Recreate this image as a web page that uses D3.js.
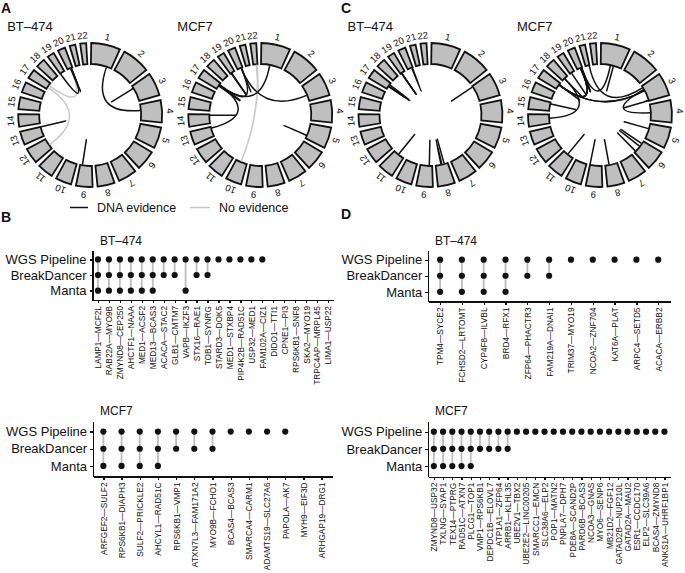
<!DOCTYPE html>
<html>
<head>
<meta charset="utf-8">
<title>Fusion detection in BT-474 and MCF7</title>
<script src="https://d3js.org/d3.v7.min.js"></script>
<style>
  body { margin: 0; background: #fff; }
  text { font-family: "Liberation Sans", Arial, Helvetica, sans-serif; fill: #111; }
  .axis path, .axis line { stroke: #111; stroke-width: 1.3px; shape-rendering: crispEdges; }
</style>
</head>
<body>
<script>
// chromosome sizes (Mb)
var chromNames = ["1","2","3","4","5","6","7","8","9","10","11","12","13","14","15","16","17","18","19","20","21","22"];
var chromLengths = [249, 243, 198, 191, 181, 171, 159, 146, 141, 136, 135, 134, 115, 107, 103, 90, 81, 78, 59, 63, 48, 51];

// circos links: [chrA, posA(Mb), chrB, posB(Mb), DNA evidence]
var linksA_BT474 = [
  [12, 50.6, 17, 20.9, 0],
  [17, 48, 20, 34, 0],
  [1, 190, 4, 72, 1],
  [3, 32.4, 3, 33.0, 1],
  [13, 113.7, 13, 113.9, 1],
  [9, 113, 9, 114, 1],
  [19, 2, 20, 47, 1],
  [20, 40, 20, 46, 1],
  [20, 44, 20, 48, 1]
];
var linksA_MCF7 = [
  [10, 74, 22, 48, 0],
  [22, 36.7, 22, 36.9, 0],
  [1, 105, 17, 56.8, 1],
  [3, 125, 20, 46.3, 1],
  [13, 100, 17, 58, 1],
  [14, 96, 14, 97, 1],
  [5, 145, 5, 147, 1],
  [17, 57.8, 17, 58.0, 1],
  [17, 42.2, 17, 42.4, 1],
  [19, 17.2, 19, 17.9, 1],
  [19, 11.0, 19, 11.1, 1],
  [20, 47.5, 20, 46.3, 1],
  [20, 49.4, 17, 58.8, 1]
];
var linksC_BT474 = [
  [19, 16.2, 19, 13.0, 1],
  [11, 72.5, 11, 71.8, 1],
  [19, 15.7, 19, 15.2, 1],
  [19, 15.4, 19, 14.1, 1],
  [20, 50.7, 20, 58.2, 1],
  [9, 34.4, 9, 34.5, 1],
  [17, 57.1, 17, 34.9, 1],
  [8, 71.0, 8, 81.6, 1],
  [8, 41.8, 8, 42.0, 1],
  [3, 9.8, 3, 9.5, 1],
  [17, 35.5, 17, 37.8, 1]
];
var linksC_MCF7 = [
  [20, 45.9, 17, 58.3, 1],
  [17, 56.6, 3, 61.5, 1],
  [17, 56.8, 3, 63.9, 1],
  [20, 39.8, 20, 39.7, 1],
  [17, 57.8, 17, 58.0, 1],
  [5, 59.9, 5, 60.0, 1],
  [1, 116.9, 20, 50.7, 1],
  [11, 75.0, 11, 75.1, 1],
  [20, 48.7, 17, 59.5, 1],
  [3, 23.2, 21, 45.3, 1],
  [3, 47.6, 4, 101.3, 1],
  [14, 61.4, 18, 33.7, 1],
  [8, 99.1, 8, 98.9, 1],
  [9, 140.4, 9, 140.5, 1],
  [15, 85.5, 15, 85.2, 1],
  [20, 49.4, 17, 58.8, 1],
  [20, 46.1, 20, 57.4, 1],
  [6, 76.5, 6, 76.3, 1],
  [3, 192.6, 3, 192.3, 1],
  [1, 153.8, 1, 154.1, 1],
  [19, 19.5, 19, 19.4, 1],
  [6, 152.0, 6, 151.9, 1],
  [18, 33.6, 18, 33.8, 1],
  [20, 49.4, 20, 45.9, 1],
  [6, 34.9, 6, 34.8, 1]
];

// detection panels
var methods = ["WGS Pipeline", "BreakDancer", "Manta"];

var fusionsB_BT474 = ["LAMP1—MCF2L","RAB22A—MYO9B","ZMYND8—CEP250","AHCTF1—NAAA","MED1—ACSF2","MED13—BCAS3","ACACA—STAC2","GLB1—CMTM7","VAPB—IKZF3","STX16—RAE1","TOB1—SYNRG","STARD3—DOK5","MED1—STXBP4","PIP4K2B—RAD51C","USP32—MED1","FAM102A—CIZ1","DIDO1—TTI1","CPNE1—PI3","RPS6KB1—SNF8","SKA2—MYO19","TRPC4AP—MRPL45","LIMA1—USP22"];
var wgsB_BT474    = [1,1,1,1,1,1,1,1,1,1,1,1,1,1,1,1,0,0,0,0,0,0];
var bdB_BT474     = [1,1,1,1,1,1,1,1,0,1,1,0,0,0,0,0,0,0,0,0,0,0];
var mantaB_BT474  = [1,1,1,1,1,1,0,0,1,0,0,0,0,0,0,0,0,0,0,0,0,0];

var fusionsB_MCF7 = ["ARFGEF2—SULF2","RPS6KB1—DIAPH3","SULF2—PRICKLE2","AHCYL1—RAD51C","RPS6KB1—VMP1","ATXN7L3—FAM171A2","MYO9B—FCHO1","BCAS4—BCAS3","SMARCA4—CARM1","ADAMTS19—SLC27A6","PAPOLA—AK7","MYH9—EIF3D","ARHGAP19—DRG1"];
var wgsB_MCF7     = [1,1,1,1,1,1,1,1,1,1,1,0,0];
var bdB_MCF7      = [1,1,1,1,1,1,1,0,0,0,0,0,0];
var mantaB_MCF7   = [1,1,1,1,0,0,0,0,0,0,0,0,0];

var fusionsD_BT474 = ["TPM4—SYCE2","FCHSD2—LRTOMT","CYP4F8—ILVBL","BRD4—RFX1","ZFP64—PHACTR3","FAM219A—DNAI1","TRIM37—MYO19","NCOA2—ZNF704","KAT6A—PLAT","ARPC4—SETD5","ACACA—ERBB2"];
var wgsD_BT474    = [1,1,1,1,1,1,1,1,1,1,1];
var bdD_BT474     = [1,1,1,1,1,1,0,0,0,0,0];
var mantaD_BT474  = [1,1,1,1,0,0,0,0,0,0,0];

var fusionsD_MCF7 = ["ZMYND8—USP32","TXLNG—SYAP1","TEX14—PTPRG","RAD51C—ATXN7","PLCG1—TOP1","VMP1—RPS6KB1","DEPDC1B—ELOVL7","ATP1A1—ZFP64","ARRB1—KLHL35","UBE2V1—TBX2","UBE2E2—LINC00205","SMARCC1—EMCN","SLC38A6—ELP2","POP1—MATN2","PNPLA7—DPH7","PDE8A—SCAND2P","PARD6B—BCAS3","NCOA3—GNAS","MYO6—SENP6","MB21D2—FGF12","GATAD2B—NUP210L","GATAD2A—MAU2","ESR1—CCDC170","ELP2—SLC39A6","BCAS4—ZMYND8","ANKS1A—UHRF1BP1"];
var wgsD_MCF7     = [1,1,1,1,1,1,1,1,1,1,1,1,1,1,1,1,1,1,1,1,1,1,1,1,1,1];
var bdD_MCF7      = [1,1,1,1,1,1,1,1,1,0,0,0,0,0,0,0,0,0,0,0,0,0,0,0,0,0];
var mantaD_MCF7   = [1,1,1,1,1,0,0,0,0,0,0,0,0,0,0,0,0,0,0,0,0,0,0,0,0,0];

var width = 685, height = 573;
var svg = d3.select("body").append("svg").attr("width", width).attr("height", height);

// ---------- circos layout ----------
var gapDeg = 4, startDeg = 0.8;
var degPerMb = (360 - gapDeg * chromLengths.length) / d3.sum(chromLengths);
var rad = Math.PI / 180;
var chromScales = [];
var acc = startDeg;
chromLengths.forEach(function (len) {
    chromScales.push(d3.scaleLinear().domain([0, len]).range([acc * rad, (acc + len * degPerMb) * rad]));
    acc += len * degPerMb + gapDeg;
});
var rIn = 51, rOut = 72, rLabel = 76.5, rLink = 50.3;

function drawCircos(cx, cy, title, links) {
    var g = svg.append("g").attr("transform", "translate(" + cx + "," + cy + ")");
    var arc = d3.arc().innerRadius(rIn).outerRadius(rOut);

    g.selectAll("path.chrom").data(chromNames).enter().append("path")
        .attr("class", "chrom")
        .attr("d", function (d, i) {
            var s = chromScales[i];
            return arc({ startAngle: s(0), endAngle: s(chromLengths[i]) });
        })
        .attr("fill", "#bfbfbf").attr("stroke", "#111").attr("stroke-width", 1.8);

    g.selectAll("text.chrom").data(chromNames).enter().append("text")
        .attr("class", "chrom")
        .attr("transform", function (d, i) {
            var a = chromScales[i](chromLengths[i] / 2);
            return "translate(" + (rLabel * Math.sin(a)) + "," + (-rLabel * Math.cos(a)) + ") rotate(" + (a / rad) + ")";
        })
        .attr("text-anchor", "middle")
        .style("font-size", "9.5px")
        .text(function (d) { return d; });

    var ordered = links.slice().sort(function (a, b) { return a[4] - b[4]; });
    g.selectAll("path.link").data(ordered).enter().append("path")
        .attr("class", "link")
        .attr("d", function (d) {
            var a1 = chromScales[d[0] - 1](d[1]), a2 = chromScales[d[2] - 1](d[3]);
            var p = d3.path();
            p.moveTo(rLink * Math.sin(a1), -rLink * Math.cos(a1));
            p.quadraticCurveTo(0, 0, rLink * Math.sin(a2), -rLink * Math.cos(a2));
            return p.toString();
        })
        .attr("fill", "none")
        .attr("stroke", function (d) { return d[4] ? "#111" : "#c8c8c8"; })
        .attr("stroke-width", 1.5);

    svg.append("text").attr("x", cx - 83).attr("y", 31)
        .style("font-size", "13px").text(title);
}

drawCircos(90.2, 115, "BT–474", linksA_BT474);
drawCircos(260.3, 115, "MCF7", linksA_MCF7);
drawCircos(430.5, 115, "BT–474", linksC_BT474);
drawCircos(600, 115, "MCF7", linksC_MCF7);

// legend
svg.append("line").attr("x1", 70).attr("x2", 88).attr("y1", 207.5).attr("y2", 207.5)
    .attr("stroke", "#111").attr("stroke-width", 1.5);
svg.append("text").attr("x", 97).attr("y", 212).style("font-size", "12.5px").text("DNA evidence");
svg.append("line").attr("x1", 190).attr("x2", 210).attr("y1", 207.5).attr("y2", 207.5)
    .attr("stroke", "#c8c8c8").attr("stroke-width", 1.5);
svg.append("text").attr("x", 219).attr("y", 212).style("font-size", "12.5px").text("No evidence");

// panel letters
[["A", 1, 13], ["C", 341, 13], ["B", 1, 222], ["D", 341, 219]].forEach(function (l) {
    svg.append("text").attr("x", l[1]).attr("y", l[2])
        .style("font-size", "14px").style("font-weight", "bold").text(l[0]);
});

// ---------- detection dot plots ----------
function drawDots(o) {
    var x = d3.scalePoint().domain(o.names).range(o.xRange).padding(o.padX);
    var y = d3.scalePoint().domain(methods).range(o.yRange).padding(o.padY);
    var g = svg.append("g");

    var flags = [o.wgs, o.bd, o.manta];
    var cols = o.names.map(function (n, i) {
        var hits = methods.filter(function (m, j) { return flags[j][i]; });
        return { name: n, hits: hits };
    });

    g.selectAll("line.conn").data(cols.filter(function (c) { return c.hits.length > 1; }))
        .enter().append("line")
        .attr("x1", function (c) { return x(c.name); })
        .attr("x2", function (c) { return x(c.name); })
        .attr("y1", function (c) { return y(c.hits[0]); })
        .attr("y2", function (c) { return y(c.hits[c.hits.length - 1]); })
        .attr("stroke", "#bdbdbd").attr("stroke-width", 1.8);

    var pts = [];
    cols.forEach(function (c) { c.hits.forEach(function (m) { pts.push([c.name, m]); }); });
    g.selectAll("circle").data(pts).enter().append("circle")
        .attr("cx", function (d) { return x(d[0]); })
        .attr("cy", function (d) { return y(d[1]); })
        .attr("r", 3.1)
        .attr("fill", "#111");

    var yAxis = g.append("g").attr("class", "axis")
        .attr("transform", "translate(" + o.xRange[0] + ",0)")
        .call(d3.axisLeft(y).tickSize(3).tickSizeOuter(0).tickPadding(3));
    yAxis.selectAll("text").style("font-size", "13px").style("font-family", null);

    var xAxis = g.append("g").attr("class", "axis")
        .attr("transform", "translate(0," + o.yRange[1] + ")")
        .call(d3.axisBottom(x).tickSize(3).tickSizeOuter(0));
    xAxis.selectAll("text")
        .style("font-size", "8.3px").style("font-family", null)
        .attr("transform", "rotate(-90)")
        .attr("x", -6).attr("y", 0).attr("dy", "0.35em")
        .style("text-anchor", "end");

    svg.append("text").attr("x", o.titleX).attr("y", o.titleY)
        .style("font-size", "12px").text(o.title);
}

drawDots({ names: fusionsB_BT474, wgs: wgsB_BT474, bd: bdB_BT474, manta: mantaB_BT474,
    xRange: [92.5, 333.5], padX: 0.5, yRange: [250, 300], padY: 0.6,
    title: "BT–474", titleX: 100, titleY: 245 });
drawDots({ names: fusionsB_MCF7, wgs: wgsB_MCF7, bd: bdB_MCF7, manta: mantaB_MCF7,
    xRange: [93, 332], padX: 0.57, yRange: [421, 476.5], padY: 0.62,
    title: "MCF7", titleX: 100, titleY: 415 });
drawDots({ names: fusionsD_BT474, wgs: wgsD_BT474, bd: bdD_BT474, manta: mantaD_BT474,
    xRange: [428.3, 670], padX: 0.54, yRange: [250, 301.5], padY: 0.6,
    title: "BT–474", titleX: 435, titleY: 245 });
drawDots({ names: fusionsD_MCF7, wgs: wgsD_MCF7, bd: bdD_MCF7, manta: mantaD_MCF7,
    xRange: [428.3, 670], padX: 0.6, yRange: [421, 476.7], padY: 0.62,
    title: "MCF7", titleX: 435, titleY: 415 });
</script>
</body>
</html>
